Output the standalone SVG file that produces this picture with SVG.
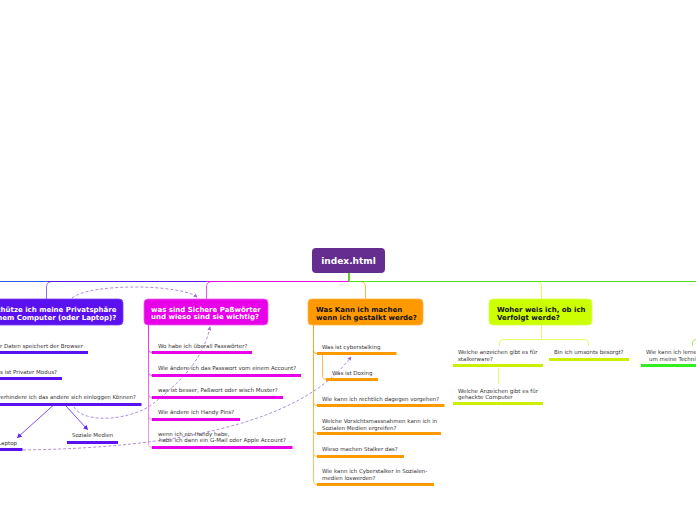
<svg xmlns="http://www.w3.org/2000/svg" width="696" height="520" viewBox="0 0 696 520">
<defs>
<style>
.bt{font-family:"DejaVu Sans",Verdana,sans-serif;font-weight:bold;font-size:7px;}
.it{font-family:"DejaVu Sans",Verdana,sans-serif;font-size:5.5px;fill:#333;}
.ul{stroke-width:3;fill:none;}
.c{fill:none;stroke-width:1;}
.dash{fill:none;stroke:#9b72cc;stroke-width:0.8;stroke-dasharray:3 2;}
.pu{stroke:#5b10f0;}
.ma{stroke:#e800e8;}
.or{stroke:#ff9900;}
.ye{stroke:#ccee00;}
</style>
<marker id="ad" viewBox="0 0 6 6" refX="5" refY="3" markerWidth="5" markerHeight="5" orient="auto"><path d="M0,0 L6,3 L0,6 z" fill="#9b72cc"/></marker>
<marker id="ap" viewBox="0 0 6 6" refX="5" refY="3" markerWidth="6" markerHeight="6" orient="auto"><path d="M0,0 L6,3 L0,6 z" fill="#6020f0"/></marker>
<linearGradient id="gm" gradientUnits="userSpaceOnUse" x1="0" y1="325" x2="0" y2="447"><stop offset="0" stop-color="#e830e8"/><stop offset="1" stop-color="#f3a3f3"/></linearGradient>
<linearGradient id="go" gradientUnits="userSpaceOnUse" x1="0" y1="325" x2="0" y2="485"><stop offset="0" stop-color="#ff9f20"/><stop offset="1" stop-color="#ffc466"/></linearGradient>
</defs>
<rect width="696" height="520" fill="#ffffff"/>
<g id="connectors">
<path class="c" d="M52.5,281.5 Q46.5,281.5 46.5,287 L46.5,299" stroke="#8f6cf5"/>
<path class="c" d="M212.5,281.5 Q206.5,281.5 206.5,287 L206.5,299" stroke="#ee55ee"/>
<path class="c" d="M359.5,281.5 Q365.5,281.5 365.5,287 L365.5,299" stroke="#ffb347"/>
<path class="c" d="M535.5,281.5 Q541.5,281.5 541.5,287 L541.5,299" stroke="#ddff44"/>
<path d="M0,281.5 L46.5,281.5" stroke="#2a5cf0" stroke-width="1"/>
<path d="M46.5,281.5 L206.5,281.5" stroke="#5a18e8" stroke-width="1"/>
<path d="M206.5,281.5 L349,281.5" stroke="#e010e0" stroke-width="1"/>
<path d="M349,281.5 L696,281.5" stroke="#55dd22" stroke-width="1"/>
<path d="M349,273 L349,281" stroke="#66cc22" stroke-width="2"/>
<path class="c" d="M696,339.5 Q692.5,339.5 692.5,343 L692.5,346" stroke="#99ee77"/>
<path class="c" d="M148.5,325 L148.5,444.5 Q148.5,447.5 152,447.5 M148.5,349.5 Q148.5,352.5 152,352.5 M148.5,372.5 Q148.5,375.5 152,375.5 M148.5,394.5 Q148.5,397.5 152,397.5 M148.5,416.5 Q148.5,419.5 152,419.5" stroke="url(#gm)"/>
<path class="c" d="M313.5,325 L313.5,481.5 Q313.5,484.5 317,484.5 M313.5,350.5 Q313.5,353.5 317,353.5 M313.5,402.5 Q313.5,405.5 317,405.5 M313.5,430.5 Q313.5,433.5 317,433.5 M313.5,453.5 Q313.5,456.5 317,456.5" stroke="url(#go)"/>
<path class="c" d="M322.5,355 L322.5,376.5 Q322.5,379.5 326,379.5" stroke="#ffb850"/>
<path class="c" d="M541.5,325 L541.5,339.5 M499.5,346 L499.5,343 Q499.5,339.5 503,339.5 L584,339.5 Q588.5,339.5 588.5,343 L588.5,346 M498.5,367.5 L498.5,384" stroke="#e2ff66"/>
<path d="M53,405.5 L17.5,437.5" stroke="#6020f0" stroke-width="0.8" marker-end="url(#ap)"/>
<path d="M65.5,405.5 L87.5,429.5" stroke="#6020f0" stroke-width="0.8" marker-end="url(#ap)"/>
<path class="dash" d="M72,298 C90,283 180,284 197,297" marker-end="url(#ad)"/>
<path class="dash" d="M74,407 C84,425 135,420 155,402 C180,382 203,360 210,327" marker-end="url(#ad)"/>
<path class="dash" d="M23,450 C170,448 300,425 351,357" marker-end="url(#ad)"/>
</g>
<g id="index">
<rect x="312" y="248" width="73" height="25" rx="4" fill="#662d91"/>
<text x="348.5" y="264.3" text-anchor="middle" font-family="DejaVu Sans, Verdana, sans-serif" font-weight="bold" font-size="9" fill="#ffffff">index.html</text>
</g>
<g id="privatsphaere">
<rect x="-10" y="299" width="133" height="26" rx="4" fill="#5b10f0" stroke="#7a40f5" stroke-width="0.8"/>
<text class="bt" fill="#ffffff"><tspan x="-25" y="312">Wie schütze ich meine Privatsphäre</tspan><tspan x="-25" y="319.5">auf einem Computer (oder Laptop)?</tspan></text>
</g>
<g id="p1"><text class="it" x="83" y="348" text-anchor="end">Was für Daten speichert der Browser</text><path class="ul pu" d="M-5,352.5 L88,352.5"/></g>
<g id="p2"><text class="it" x="57" y="373.5" text-anchor="end">Was ist Privater Modus?</text><path class="ul pu" d="M-5,378.5 L62,378.5"/></g>
<g id="p3"><text class="it" x="136" y="399.3" text-anchor="end">Wie verhindere ich das andere sich einloggen Können?</text><path class="ul pu" d="M-5,404.5 L141.5,404.5"/></g>
<g id="p4"><text class="it" x="17" y="445" text-anchor="end">Laptop</text><path class="ul pu" d="M-5,449.5 L22.5,449.5"/></g>
<g id="p5"><text class="it" x="72" y="437">Soziale Medien</text><path class="ul pu" d="M67,442.5 L118,442.5"/></g>
<g id="passwoerter">
<rect x="144" y="299" width="124" height="26" rx="4" fill="#e800e8" stroke="#f060f0" stroke-width="0.8"/>
<text class="bt" fill="#ffffff"><tspan x="151" y="312">was sind Sichere Paßwörter</tspan><tspan x="151" y="319">und wieso sind sie wichtig?</tspan></text>
</g>
<g id="m1"><text class="it" x="158" y="348">Wo habe ich überall Passwörter?</text><path class="ul ma" d="M152,352.5 L252,352.5"/></g>
<g id="m2"><text class="it" x="158" y="370.3">Wie ändere ich das Passwort vom einem Account?</text><path class="ul ma" d="M152,375.5 L301,375.5"/></g>
<g id="m3"><text class="it" x="158" y="392">was ist besser, Paßwort oder wisch Muster?</text><path class="ul ma" d="M152,397.5 L283,397.5"/></g>
<g id="m4"><text class="it" x="158" y="414">Wie ändere ich Handy Pins?</text><path class="ul ma" d="M152,419.5 L240,419.5"/></g>
<g id="m5"><text class="it"><tspan x="158" y="436.3">wenn ich ein Handy habe,</tspan><tspan x="159" y="442.3">habe ich dann ein G-Mail oder Apple Account?</tspan></text><path class="ul ma" d="M152,447.5 L292.5,447.5"/></g>
<g id="gestalkt">
<rect x="308" y="299" width="115" height="26" rx="4" fill="#ff9900" stroke="#ffb040" stroke-width="0.8"/>
<text class="bt" fill="#111111"><tspan x="316" y="312">Was Kann ich machen</tspan><tspan x="316" y="319.5">wenn ich gestalkt werde?</tspan></text>
</g>
<g id="o1"><text class="it" x="322" y="349" font-size="6.5">Was ist cyberstalking</text><path class="ul or" d="M317,353.5 L396.5,353.5"/></g>
<g id="o1a"><text class="it" x="332" y="375.3">Was ist Doxing</text><path class="ul or" d="M326,379.5 L378,379.5"/></g>
<g id="o2"><text class="it" x="322" y="401">Wie kann ich rechtlich dagegen vorgehen?</text><path class="ul or" d="M317,405.5 L444.5,405.5"/></g>
<g id="o3"><text class="it"><tspan x="322" y="423.3">Welche Vorsichtsmassnahmen kann ich in</tspan><tspan x="322" y="429.5">Sozialen Medien ergreifen?</tspan></text><path class="ul or" d="M317,433.5 L441,433.5"/></g>
<g id="o4"><text class="it" x="322" y="451">Wieso machen Stalker das?</text><path class="ul or" d="M317,456.5 L404,456.5"/></g>
<g id="o5"><text class="it"><tspan x="322" y="472.7">Wie kann ich Cyberstalker in Sozialen-</tspan><tspan x="322" y="479.8">medien loswerden?</tspan></text><path class="ul or" d="M317,484.5 L434,484.5"/></g>
<g id="verfolgt">
<rect x="489" y="299" width="103" height="26" rx="4" fill="#ccff00" stroke="#dcff55" stroke-width="0.8"/>
<text class="bt" fill="#111111"><tspan x="497" y="312">Woher weis ich, ob ich</tspan><tspan x="497" y="319.5">Verfolgt werde?</tspan></text>
</g>
<g id="y1"><text class="it"><tspan x="458" y="353.7">Welche anzeichen gibt es für</tspan><tspan x="458" y="361">stalkerware?</tspan></text><path class="ul ye" d="M453,365.5 L543,365.5"/></g>
<g id="y2"><text class="it" x="554" y="353.7">Bin ich umsonts besorgt?</text><path class="ul ye" d="M549,359.5 L629,359.5"/></g>
<g id="y1a"><text class="it"><tspan x="458" y="393">Welche Anzeichen gibt es für</tspan><tspan x="458" y="399.3">gehackte Computer</tspan></text><path class="ul ye" d="M453,403.5 L543,403.5"/></g>
<g id="g1"><text class="it"><tspan x="646" y="354.3">Wie kann ich lernen</tspan><tspan x="649" y="361.3">um meine Technik</tspan></text><path class="ul" stroke="#33ee22" d="M641,365.5 L700,365.5"/></g>
</svg>
